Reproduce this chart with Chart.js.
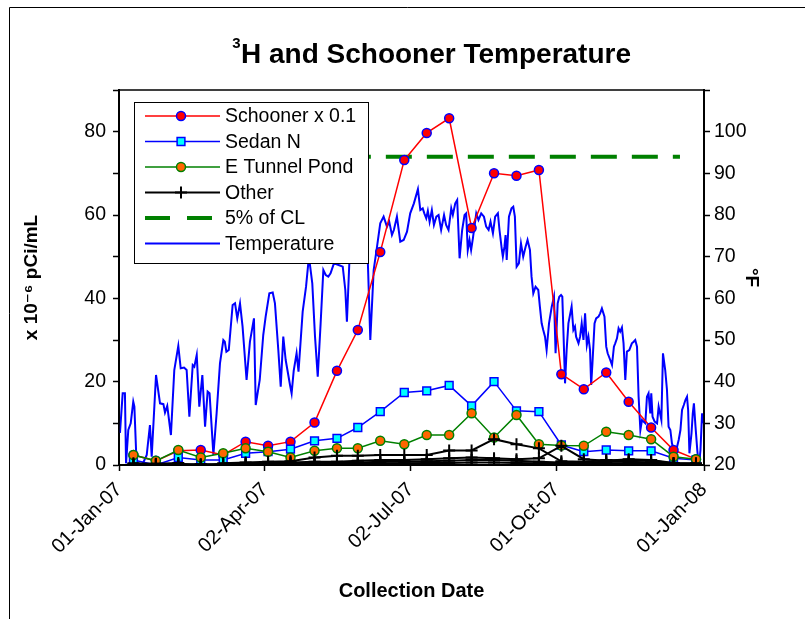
<!DOCTYPE html>
<html>
<head>
<meta charset="utf-8">
<script src="https://cdn.jsdelivr.net/npm/chart.js@4.4.1/dist/chart.umd.min.js"></script>
<style>
html,body{margin:0;padding:0;background:#fff}
</style>
</head>
<body>
<canvas id="chart" width="805" height="619"></canvas>
<script>

// sampling days, counted from 01-Jan-07
const sampleDays=[9,23,37,51,65,79,93,107,122,136,149,163,178,192,206,220,234,248,262,276,290,304,318,332,346,360]

const schooner=[2.4,1.0,3.4,3.6,2.4,5.6,4.6,5.6,10.2,22.6,32.4,51.1,73.2,79.7,83.2,56.9,70.0,69.4,70.8,21.8,18.2,22.2,15.2,9.0,3.6,1.4]
const sedanN=[1.2,0.0,1.8,1.2,1.2,2.8,3.2,3.8,5.8,6.4,9.0,12.8,17.4,17.8,19.1,14.2,20.0,13.0,12.8,4.8,3.2,3.6,3.4,3.4,1.6,1.2]
const eTunnel=[2.4,1.0,3.6,1.8,2.8,4.0,3.2,1.8,3.4,4.0,4.0,5.8,5.0,7.2,7.2,12.4,6.6,12.0,5.0,4.7,4.6,8.0,7.2,6.2,2.0,1.4]

// the other sampling points, all drawn as black crosses
const otherA=[0.4,0.3,0.5,-0.4,0.4,0.6,0.8,0.9,1.8,2.2,2.2,2.4,2.4,2.4,3.5,3.5,6.2,5.0,4.0,0.9,0.8,1.2,1.0,1.0,0.4,0.3]
const otherB=[0.2,0.1,0.2,0.2,0.2,0.4,0.5,0.6,0.8,0.8,1.0,1.2,1.2,1.4,1.6,1.8,1.6,1.4,1.6,4.6,1.4,1.0,1.4,1.2,0.5,0.4]
const otherC=[0.1,0.1,0.1,0.1,0.1,0.2,0.3,0.4,0.5,0.6,0.6,0.8,0.8,0.9,1.0,1.2,1.2,1.0,0.8,0.6,0.6,0.8,0.8,0.6,0.3,0.2]
const otherD=[0,0,0,0,0,0.1,0.1,0.2,0.2,0.3,0.3,0.4,0.4,0.5,0.5,0.6,0.6,0.5,0.4,0.3,0.3,0.4,0.4,0.3,0.2,0.1]

// 5% of CL
const clDays=[13,350]
const clLevel=[74,74]

// daily temperature, degrees F
const tempDays=[0.6,2.3,3.7,4.4,5.8,7.3,8.9,9.6,11.0,14.0,17.3,19.3,20.4,23.1,25.6,27.7,28.7,30.1,32.4,34.5,37.0,38.5,40.6,42.2,43.9,46.0,47.0,48.5,50.1,52.0,53.7,55.3,56.5,58.9,60.9,63.0,65.1,66.0,67.0,68.5,70.9,72.4,73.8,75.5,77.1,79.6,81.7,84.2,85.3,87.8,90.0,91.5,93.8,95.9,97.3,99.4,100.9,102.5,104.0,106.7,107.7,109.0,110.8,112.0,114.6,116.7,118.5,120.6,122.3,124.0,125.8,127.5,129.0,130.6,132.0,134.1,137.0,139.6,141.2,142.2,143.7,146.0,150.0,153.0,154.7,156.8,158.9,161.0,163.0,165.1,167.2,168.6,170.3,171.5,173.4,175.5,177.6,179.7,181.7,184.0,186.5,188.0,189.5,190.5,191.7,192.7,193.8,195.2,196.5,198.0,199.4,201.0,202.8,204.1,205.6,207.3,208.3,209.8,211.0,212.5,214.1,215.6,216.6,217.6,218.7,219.7,220.8,222.9,224.3,226.0,227.7,229.1,230.6,231.8,233.3,234.7,236.4,237.4,238.9,239.5,240.5,241.2,241.9,243.3,244.9,246.0,247.0,248.1,249.5,250.8,252.2,253.7,254.9,256.4,257.4,258.5,259.9,261.6,262.6,263.7,264.7,265.8,266.8,268.3,270.0,271.4,272.4,273.7,274.7,275.8,276.6,277.4,278.3,279.3,280.4,282.4,283.5,284.5,285.2,286.7,287.7,288.7,289.8,290.8,291.9,292.9,293.9,294.6,295.4,296.7,297.7,299.2,300.2,301.3,302.9,304.0,304.9,306.5,307.6,308.8,309.6,310.7,311.7,312.7,313.8,314.8,315.9,316.9,318.4,320.0,321.1,322.1,323.2,324.2,325.3,326.3,328.4,329.4,330.4,331.5,332.1,332.9,334.2,335.7,336.7,338.4,339.4,340.8,341.9,342.9,344.0,345.0,346.1,347.1,348.2,349.2,350.3,351.3,352.4,353.4,354.4,355.1,355.9,357.2,358.0,358.7,359.7,360.8,361.8,362.8,363.8,364.4]
const tempF=[27.7,37.2,37.2,20.4,28.4,30.0,35.2,34.0,20.0,19.6,22.4,29.6,22.0,41.6,34.8,34.6,32.6,34.2,27.2,42.8,48.6,43.2,43.4,42.8,31.6,44.0,43.6,46.4,34.0,41.6,29.2,37.6,37.2,22.4,32.4,44.4,50.0,49.6,47.2,47.6,58.4,58.8,55.2,58.8,53.2,40.4,49.6,55.2,34.4,40.4,51.2,55.6,61.2,61.4,58.8,47.6,38.8,50.8,45.2,39.2,37.2,42.6,46.8,42.4,56.8,62.8,70.0,63.6,50.8,41.2,54.0,66.8,65.6,65.2,66.0,68.4,68.0,67.6,62.0,54.4,68.4,74.0,71.0,76.0,75.6,50.0,66.8,72.4,78.0,79.6,77.2,78.4,75.2,76.4,79.6,73.6,74.0,76.0,80.4,82.8,86.2,81.2,81.6,80.4,79.2,81.0,78.4,81.2,77.6,79.6,80.0,76.4,80.0,77.6,76.4,81.6,80.0,82.8,83.6,69.6,76.4,80.0,80.4,71.6,74.0,71.6,74.4,80.4,78.8,80.4,79.6,77.2,76.4,78.4,75.6,79.6,80.4,76.4,71.6,70.0,72.4,75.2,69.2,79.6,81.6,82.0,79.6,67.6,68.4,73.2,70.0,72.4,74.0,71.6,65.2,61.2,62.8,62.0,58.0,54.0,52.4,50.8,47.6,54.0,58.0,60.4,46.8,58.8,60.4,60.8,60.4,50.8,39.6,47.6,54.0,58.0,52.4,53.2,50.8,49.2,50.8,54.0,50.0,56.4,48.8,50.8,47.6,39.2,44.4,54.0,55.2,55.6,56.4,57.6,55.6,48.4,46.8,45.2,44.0,48.4,49.2,50.4,52.8,52.0,53.0,49.2,40.4,47.2,47.6,49.2,49.6,50.0,48.4,36.4,28.4,30.8,30.0,36.4,37.2,32.4,37.2,31.6,30.4,30.0,34.0,30.8,46.8,42.8,38.0,29.2,28.4,25.2,23.6,22.0,24.4,26.0,28.4,33.2,34.4,35.6,36.4,33.2,22.8,27.6,32.4,34.8,29.2,23.6,19.6,23.6,32.4,30.0]

const xTickDays=[0,91,182,273,365]
const xTickLabels=["01-Jan-07","02-Apr-07","02-Jul-07","01-Oct-07","01-Jan-08"]
const leftTicks=[0,20,40,60,80]
const rightTicks=[20,30,40,50,60,70,80,90,100]

const FONT="'Liberation Sans', Arial, 'DejaVu Sans', sans-serif"

Chart.defaults.font.family=FONT
Chart.defaults.color="#000"

function pts(days,vals){
return days.map((d,i)=>({x:d,y:vals[i]}))
}

function otherSet(vals,label,inLegend){
return {
label:label,
data:pts(sampleDays,vals),
yAxisID:"y",
borderColor:"#000",
backgroundColor:"#000",
borderWidth:2,
pointStyle:"cross",
pointRadius:6,
pointBorderWidth:2,
pointBorderColor:"#000",
inLegend:inLegend,
order:1
}
}

let datasets=[
{
label:"Schooner x 0.1",
data:pts(sampleDays,schooner),
yAxisID:"y",
borderColor:"#ff0000",
borderWidth:1.5,
pointStyle:"circle",
pointRadius:4.5,
pointBorderWidth:1.5,
pointBackgroundColor:"#ff0000",
pointBorderColor:"#0000ff",
inLegend:true,
order:4
},
{
label:"Sedan N",
data:pts(sampleDays,sedanN),
yAxisID:"y",
borderColor:"#0000ff",
borderWidth:1.5,
pointStyle:"rect",
pointRadius:5.5,
pointBorderWidth:1.5,
pointBackgroundColor:"#00ffff",
pointBorderColor:"#0000ff",
inLegend:true,
order:3
},
{
label:"E Tunnel Pond",
data:pts(sampleDays,eTunnel),
yAxisID:"y",
borderColor:"#008000",
borderWidth:1.5,
pointStyle:"circle",
pointRadius:4.5,
pointBorderWidth:1.5,
pointBackgroundColor:"#ff6600",
pointBorderColor:"#008000",
inLegend:true,
order:2
},
otherSet(otherA,"Other",true),
otherSet(otherB,"Other B",false),
otherSet(otherC,"Other C",false),
otherSet(otherD,"Other D",false),
{
label:"5% of CL",
data:pts(clDays,clLevel),
yAxisID:"y",
borderColor:"#008000",
borderWidth:4,
borderDash:[26,15],
pointRadius:0,
inLegend:true,
order:5
},
{
label:"Temperature",
data:pts(tempDays,tempF),
yAxisID:"y2",
borderColor:"#0000ff",
borderWidth:2,
pointRadius:0,
inLegend:true,
order:6
}
]

// frame, title, plot box and the boxed legend inside the plot
const decor={
id:"decor",
beforeDraw(chart){
let ctx=chart.ctx
ctx.save()
ctx.fillStyle="#fff"
ctx.fillRect(0,0,chart.width,chart.height)
ctx.strokeStyle="#000"
ctx.lineWidth=1
ctx.beginPath()
ctx.moveTo(9.5,chart.height)
ctx.lineTo(9.5,7.5)
ctx.lineTo(chart.width,7.5)
ctx.stroke()

ctx.fillStyle="#000"
ctx.textBaseline="alphabetic"
ctx.textAlign="left"
let main="H and Schooner Temperature"
ctx.font="bold 28px "+FONT
let w=ctx.measureText(main).width
let x0=436-w/2
ctx.fillText(main,x0,63)
ctx.font="bold 15px "+FONT
let w3=ctx.measureText("3").width
ctx.fillText("3",x0-w3-0.5,48)
ctx.restore()
},
afterDatasetsDraw(chart){
let ctx=chart.ctx
let a=chart.chartArea
ctx.save()
ctx.strokeStyle="#000"
ctx.lineWidth=1.5
ctx.strokeRect(a.left,a.top,a.right-a.left,a.bottom-a.top)

let bx=134.5,by=102.5,bw=234,bh=161
ctx.fillStyle="#fff"
ctx.fillRect(bx,by,bw,bh)
ctx.lineWidth=1
ctx.strokeStyle="#000"
ctx.strokeRect(bx,by,bw,bh)

let items=chart.data.datasets.filter(d=>d.inLegend)
items.forEach((d,i)=>{
let y=116+i*25.5
ctx.save()
ctx.strokeStyle=d.borderColor
ctx.lineWidth=d.borderWidth
ctx.setLineDash(d.borderDash?[25,17]:[])
ctx.beginPath()
ctx.moveTo(145,y)
ctx.lineTo(220,y)
ctx.stroke()
ctx.setLineDash([])
if(d.pointRadius>0){
ctx.fillStyle=d.pointBackgroundColor||d.borderColor
ctx.strokeStyle=d.pointBorderColor||d.borderColor
ctx.lineWidth=d.pointBorderWidth
Chart.helpers.drawPoint(ctx,{pointStyle:d.pointStyle,radius:d.pointRadius,borderWidth:d.pointBorderWidth,rotation:0},181,y)
}
ctx.fillStyle="#000"
ctx.font="19.5px "+FONT
ctx.textBaseline="middle"
ctx.textAlign="left"
ctx.fillText(d.label,225,y+1)
ctx.restore()
})
ctx.restore()
}
}

new Chart(document.getElementById("chart"),{

type:"line",

data:{datasets:datasets},

options:{
responsive:false,
animation:false,
events:[],
layout:{padding:{left:10,right:10,top:90,bottom:14}},
elements:{line:{tension:0}},
plugins:{
legend:{display:false},
title:{display:false},
tooltip:{enabled:false}
},
scales:{
x:{
type:"linear",
min:0,
max:365,
afterBuildTicks:s=>{s.ticks=xTickDays.map(v=>({value:v}))},
afterFit:s=>{s.height=140},
ticks:{
callback:(v,i)=>xTickLabels[i],
minRotation:45,
maxRotation:45,
autoSkip:false,
padding:7,
color:"#000",
font:{size:20}
},
grid:{drawOnChartArea:false,tickLength:6,color:"#000",tickWidth:1.5},
border:{color:"#000",width:2},
title:{display:true,text:"Collection Date",color:"#000",font:{size:20,weight:"bold"},padding:{top:0,bottom:2}}
},
y:{
position:"left",
min:0,
max:90,
afterFit:s=>{s.width=109},
ticks:{
stepSize:10,
callback:v=>leftTicks.includes(v)?v:"",
padding:7,
color:"#000",
font:{size:19.5}
},
grid:{drawOnChartArea:false,tickLength:6,color:"#000",tickWidth:1.5},
border:{color:"#000",width:2},
title:{display:true,text:"x 10\u207B\u2076 pCi/mL",color:"#000",font:{size:19,weight:"bold"},padding:{top:10,bottom:0}}
},
y2:{
position:"right",
min:20,
max:110,
afterFit:s=>{s.width=91},
ticks:{
stepSize:10,
callback:v=>rightTicks.includes(v)?v:"",
padding:4,
color:"#000",
font:{size:19.5}
},
grid:{drawOnChartArea:false,tickLength:6,color:"#000",tickWidth:1.5},
border:{color:"#000",width:2},
title:{display:true,text:"\u00B0F",color:"#000",font:{size:19,weight:"bold"},padding:{top:32,bottom:0}}
}
}
},

plugins:[decor]

})

</script>
</body>
</html>
